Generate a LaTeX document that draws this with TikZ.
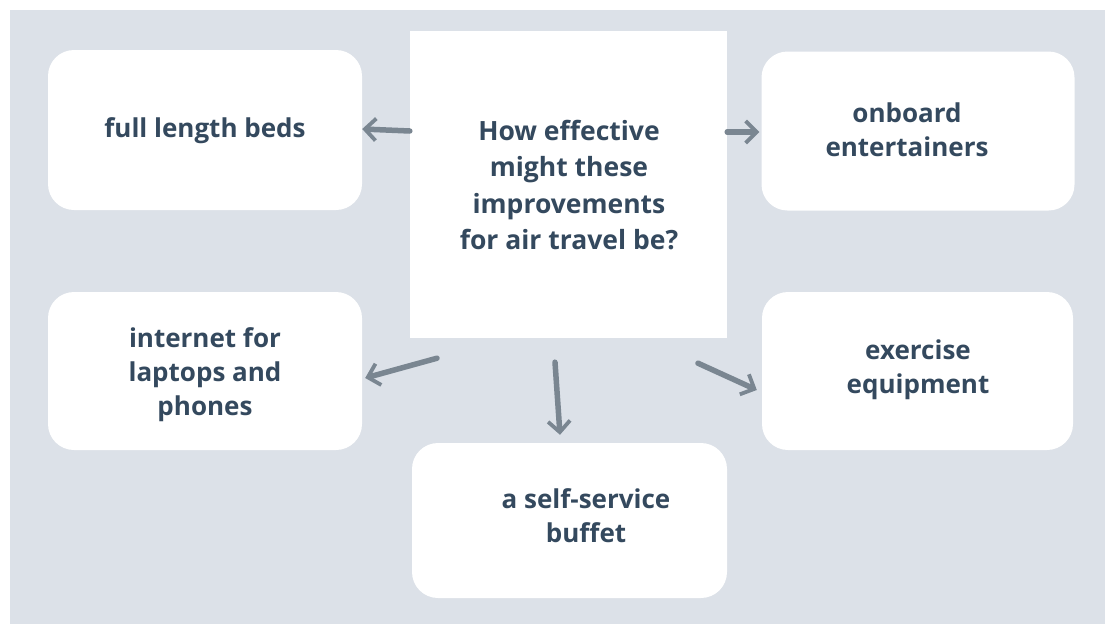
\documentclass[tikz,border=0pt]{standalone}
\usepackage{fontspec}
\setmainfont{Open Sans}
\usetikzlibrary{arrows.meta}
\definecolor{bgc}{HTML}{DCE1E8}
\definecolor{txc}{HTML}{34495E}
\definecolor{arc}{HTML}{7A8691}
\tikzset{
  card/.style={fill=white, draw=none, rounded corners=26pt, inner sep=0pt},
  qbox/.style={fill=white, draw=none, inner sep=0pt},
  lbl/.style={text=txc, font=\fontsize{26}{34}\selectfont\bfseries, align=center, inner sep=0pt},
  conn/.style={draw=arc, line width=5.5pt, line cap=round, -{Straight Barb[length=11pt,width=22pt,line width=3.8pt]}}
}
\begin{document}
\begin{tikzpicture}[x=1pt,y=-1pt]
\useasboundingbox (0,0) rectangle (1105,624);
\fill[white] (0,0) rectangle (1105,624);
\fill[bgc] (10,10) rectangle (1105,624);
% boxes
\node[card, minimum width=314pt, minimum height=160pt] (beds) at (205,130) {};
\node[qbox, minimum width=317pt, minimum height=307pt] (central) at (568.5,184.5) {};
\node[card, minimum width=313pt, minimum height=159pt] (ent) at (918,131) {};
\node[card, minimum width=314pt, minimum height=158pt] (net) at (205,371) {};
\node[card, minimum width=311pt, minimum height=158pt] (exer) at (917.5,371) {};
\node[card, minimum width=315pt, minimum height=155pt] (buf) at (569.5,520.5) {};
% labels
\node[lbl] (bedsT) at (205,131) {full length beds};
\node[lbl, font=\fontsize{26.5}{36.5}\selectfont\bfseries] (centralT) at (569,185) {How effective\\might these\\improvements\\for air travel be?};
\node[lbl] (entT) at (907,130) {onboard\\entertainers};
\node[lbl] (netT) at (205,375) {internet for\\laptops and\\phones};
\node[lbl] (exerT) at (918,370) {exercise\\equipment};
\node[lbl] (bufT) at (586,516) {a self-service\\buffet};
% connectors
\draw[conn] ([yshift=53.5pt]central.west) -- ([yshift=1pt]beds.east);
\draw[conn] ([yshift=52.5pt]central.east) -- ([xshift=-2pt,yshift=-1pt]ent.west);
\draw[conn] ([xshift=-131.5pt,yshift=-20pt]central.south) -- ([xshift=3pt,yshift=-7pt]net.east);
\draw[conn] ([xshift=-13.5pt,yshift=-24pt]central.south) -- ([xshift=-9.5pt,yshift=8pt]buf.north);
\draw[conn] ([xshift=129.5pt,yshift=-25pt]central.south) -- ([xshift=-5pt,yshift=-19pt]exer.west);
\end{tikzpicture}
\end{document}
